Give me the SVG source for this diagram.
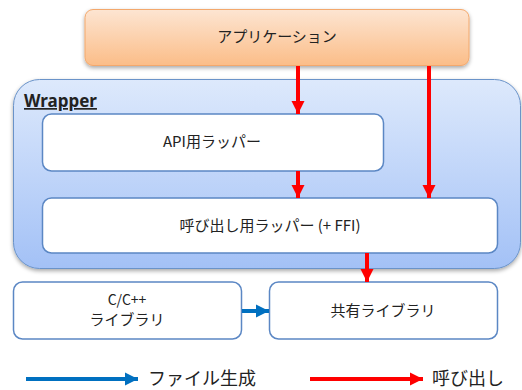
<svg xmlns="http://www.w3.org/2000/svg" width="522" height="390" viewBox="0 0 522 390">
<defs>
<linearGradient id="gApp" x1="0" y1="0" x2="0" y2="1">
<stop offset="0" stop-color="#fde5d2"/>
<stop offset="1" stop-color="#fbbd88"/>
</linearGradient>
<linearGradient id="gWrap" x1="0" y1="0" x2="0" y2="1">
<stop offset="0" stop-color="#dde9fc"/>
<stop offset="1" stop-color="#a3c1f6"/>
</linearGradient>
<filter id="sh" x="-10%" y="-10%" width="120%" height="130%">
<feGaussianBlur in="SourceAlpha" stdDeviation="2"/>
<feOffset dx="0" dy="2" result="b"/>
<feComponentTransfer><feFuncA type="linear" slope="0.35"/></feComponentTransfer>
<feMerge><feMergeNode/><feMergeNode in="SourceGraphic"/></feMerge>
</filter>
<marker id="mRed" viewBox="0 0 10 10" refX="10" refY="5" markerWidth="3.3" markerHeight="3.3" markerUnits="strokeWidth" orient="auto">
<path d="M0,0 L10,5 L0,10 z" fill="#ff0000"/>
</marker>
<marker id="mBlue" viewBox="0 0 10 10" refX="10" refY="5" markerWidth="3.3" markerHeight="3.3" markerUnits="strokeWidth" orient="auto">
<path d="M0,0 L10,5 L0,10 z" fill="#0070c0"/>
</marker>
</defs>
<style>
text{font-family:"Noto Sans CJK JP","Noto Sans",sans-serif;fill:#222;}
.lbl{font-size:15px;text-anchor:middle;}
.sm{font-size:14px;}
.box{fill:#fff;stroke:#5b87c4;stroke-width:1.5;}
.red{stroke:#ff0000;stroke-width:4;fill:none;marker-end:url(#mRed);}
.blue{stroke:#0070c0;stroke-width:4;fill:none;marker-end:url(#mBlue);}
.leg{font-size:18px;}
</style>
<rect width="522" height="390" fill="#fff"/>
<g id="app">
<rect x="85" y="9.5" width="384" height="56" rx="8" fill="url(#gApp)" stroke="#f3a86c" stroke-width="1" filter="url(#sh)"/>
<text class="lbl" x="277" y="42">アプリケーション</text>
</g>
<g id="wrapper">
<rect x="13.5" y="79.5" width="507" height="189" rx="26" fill="url(#gWrap)" stroke="#6a93c9" stroke-width="1" filter="url(#sh)"/>
<text x="24" y="107" style="font-family:'Noto Sans',sans-serif;font-size:17px;font-weight:bold;text-decoration:underline;">Wrapper</text>
</g>
<g id="api">
<rect class="box" x="42.5" y="114" width="341" height="57" rx="9"/>
<text class="lbl" x="212" y="147">API用ラッパー</text>
</g>
<g id="call">
<rect class="box" x="42.5" y="198" width="455" height="55" rx="9"/>
<text class="lbl" x="270" y="231">呼び出し用ラッパー (+ FFI)</text>
</g>
<g id="clib">
<rect class="box" x="13.5" y="282" width="228" height="57" rx="9"/>
<text class="lbl sm" x="127" y="305">C/C++</text>
<text class="lbl" x="127" y="325">ライブラリ</text>
</g>
<g id="shared">
<rect class="box" x="269.5" y="282" width="228" height="57" rx="9"/>
<text class="lbl" x="383" y="316">共有ライブラリ</text>
</g>
<g id="connectors">
<line class="red" x1="298" y1="66" x2="298" y2="114"/>
<line class="red" x1="429" y1="66" x2="429" y2="198"/>
<line class="red" x1="298" y1="171" x2="298" y2="198"/>
<line class="red" x1="367" y1="253" x2="367" y2="282"/>
<line class="blue" x1="242" y1="311" x2="269" y2="311"/>
</g>
<g id="legend">
<line class="blue" x1="26" y1="379" x2="138" y2="379"/>
<text class="leg" x="148" y="385">ファイル生成</text>
<line class="red" x1="310" y1="379" x2="423" y2="379"/>
<text class="leg" x="432" y="385">呼び出し</text>
</g>
</svg>
